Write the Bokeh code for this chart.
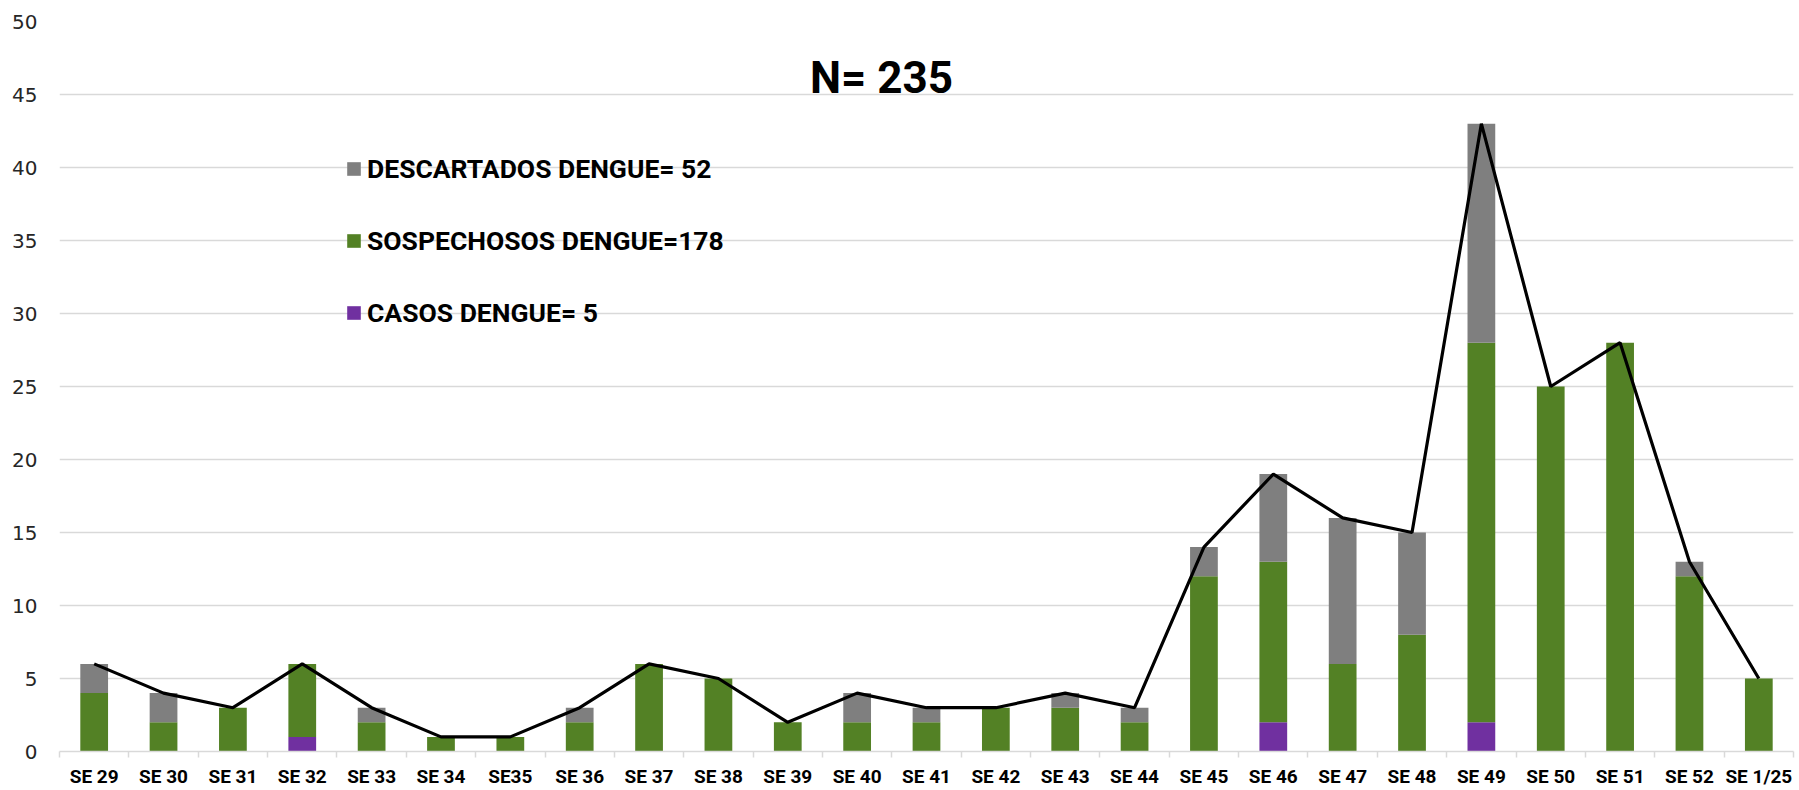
from bokeh.plotting import figure
from bokeh.models import FixedTicker, Legend, LegendItem, Range1d, Label
from bokeh.embed import file_html
from bokeh.resources import INLINE

categories = ["SE 29", "SE 30", "SE 31", "SE 32", "SE 33", "SE 34", "SE35", "SE 36",
              "SE 37", "SE 38", "SE 39", "SE 40", "SE 41", "SE 42", "SE 43", "SE 44",
              "SE 45", "SE 46", "SE 47", "SE 48", "SE 49", "SE 50", "SE 51", "SE 52", "SE 1/25"]
casos = [0, 0, 0, 1, 0, 0, 0, 0, 0, 0, 0, 0, 0, 0, 0, 0, 0, 2, 0, 0, 2, 0, 0, 0, 0]
sospechosos = [4, 2, 3, 5, 2, 1, 1, 2, 6, 5, 2, 2, 2, 3, 3, 2, 12, 11, 6, 8, 26, 25, 28, 12, 5]
descartados = [2, 2, 0, 0, 1, 0, 0, 1, 0, 0, 0, 2, 1, 0, 1, 1, 2, 6, 10, 7, 15, 0, 0, 1, 0]
y_ticks = [0, 5, 10, 15, 20, 25, 30, 35, 40, 45, 50]
title_text = "N= 235"
legend_labels = ["DESCARTADOS DENGUE= 52", "SOSPECHOSOS DENGUE=178", "CASOS DENGUE= 5"]

GREY = "#7f7f7f"
GREEN = "#538125"
PURPLE = "#7030a0"
FONT = "Roboto"

xs = list(range(len(categories)))
total = [c + s + d for c, s, d in zip(casos, sospechosos, descartados)]
data = dict(x=xs, casos=casos, sospechosos=sospechosos, descartados=descartados, total=total)

p = figure(width=1799, height=790, x_range=Range1d(-0.5, len(categories) - 0.5),
           y_range=Range1d(0, 50), output_backend="svg", toolbar_location=None,
           min_border_left=59, min_border_right=6, min_border_top=21, min_border_bottom=38)
p.outline_line_color = None
p.background_fill_color = "white"
p.border_fill_color = "white"

p.xgrid.grid_line_color = None
p.ygrid.grid_line_color = "#d9d9d9"
p.ygrid.grid_line_width = 1.5

p.yaxis.ticker = FixedTicker(ticks=y_ticks)
p.yaxis.axis_line_color = None
p.yaxis.major_tick_line_color = None
p.yaxis.minor_tick_line_color = None
p.yaxis.major_tick_out = 0
p.yaxis.major_label_text_font = "DejaVu Sans"
p.yaxis.major_label_text_font_size = "20px"
p.yaxis.major_label_text_color = "#262626"
p.yaxis.major_label_standoff = 22

p.xaxis.ticker = FixedTicker(ticks=xs, minor_ticks=[i - 0.5 for i in range(len(categories) + 1)])
p.xaxis.major_label_overrides = {i: c for i, c in enumerate(categories)}
p.xaxis.axis_line_color = "#d9d9d9"
p.xaxis.axis_line_width = 1.5
p.xaxis.major_tick_line_color = None
p.xaxis.major_tick_out = 0
p.xaxis.minor_tick_line_color = "#d9d9d9"
p.xaxis.minor_tick_line_width = 1.5
p.xaxis.minor_tick_in = 0
p.xaxis.minor_tick_out = 6
p.xaxis.major_label_text_font = FONT
p.xaxis.major_label_text_font_style = "bold"
p.xaxis.major_label_text_font_size = "19px"
p.xaxis.major_label_text_color = "black"
p.xaxis.major_label_standoff = 7

rs = p.vbar_stack(["casos", "sospechosos", "descartados"], x="x", width=0.4,
                  color=[PURPLE, GREEN, GREY], line_color=None, source=data)

p.line("x", "total", source=data, line_color="black", line_width=3.2)

title = Label(x=11.35, y=46.13, text=title_text, text_font=FONT, text_font_style="bold",
              text_font_size="44px", text_align="center", text_baseline="alphabetic",
              text_color="black")
p.add_layout(title)

legend = Legend(items=[LegendItem(label=legend_labels[0], renderers=[rs[2]]),
                       LegendItem(label=legend_labels[1], renderers=[rs[1]]),
                       LegendItem(label=legend_labels[2], renderers=[rs[0]])],
                location=(286, 423), orientation="vertical")
legend.label_text_font = FONT
legend.label_text_font_style = "bold"
legend.label_text_font_size = "26.5px"
legend.label_text_color = "black"
legend.glyph_width = 17
legend.glyph_height = 17
legend.label_height = 32
legend.label_standoff = 5
legend.spacing = 40
legend.padding = 0
legend.margin = 0
legend.border_line_color = None
legend.background_fill_alpha = 0
p.add_layout(legend)

open("out.html", "w").write(file_html(p, INLINE))
